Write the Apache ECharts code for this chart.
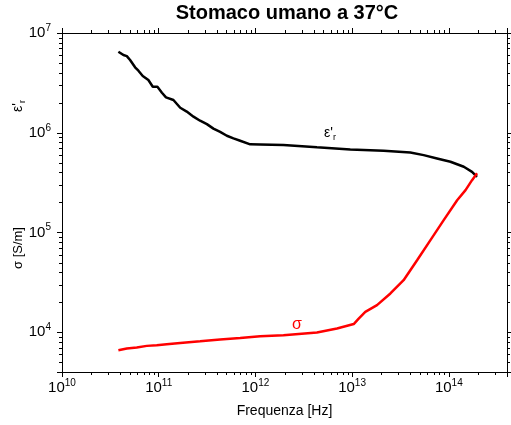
<!DOCTYPE html>
<html><head><meta charset="utf-8">
<script src="https://cdn.jsdelivr.net/npm/echarts@6/dist/echarts.min.js"></script>
<style>html,body{margin:0;padding:0;background:#fff}#c{width:511px;height:425px}</style>
</head><body><div id="c"></div>
<script>
// ---- data ----
const epsFreq = [3.83e10,4.32e10,4.68e10,5.06e10,5.70e10,6.17e10,6.84e10,7.82e10,8.69e10,9.70e10,
  1.08e11,1.19e11,1.42e11,1.67e11,1.95e11,2.29e11,2.68e11,3.15e11,3.68e11,4.32e11,5.07e11,5.93e11,6.96e11,8.84e11,
  1.12e12,1.95e12,4.33e12,9.58e12,2.12e13,4.00e13,5.50e13,7.56e13,1.04e14,1.43e14,1.74e14,1.96e14];
const epsValues = [6.49e6,6.01e6,5.87e6,5.36e6,4.53e6,4.19e6,3.71e6,3.38e6,2.89e6,2.89e6,
  2.52e6,2.26e6,2.13e6,1.78e6,1.63e6,1.45e6,1.32e6,1.22e6,1.10e6,1.02e6,9.33e5,8.79e5,8.32e5,7.66e5,
  7.62e5,7.53e5,7.14e5,6.81e5,6.59e5,6.35e5,5.97e5,5.53e5,5.12e5,4.56e5,4.06e5,3.62e5];
const sigmaFreq = [3.83e10,4.68e10,5.93e10,7.53e10,9.55e10,1.21e11,1.67e11,2.68e11,4.32e11,6.96e11,
  1.12e12,1.95e12,4.33e12,6.98e12,1.04e13,1.17e13,1.37e13,1.81e13,2.49e13,3.41e13,4.70e13,6.46e13,8.86e13,
  1.22e14,1.49e14,1.74e14,1.96e14];
const sigmaValues = [6.61e3,6.88e3,7.04e3,7.31e3,7.43e3,7.60e3,7.83e3,8.14e3,8.47e3,8.79e3,
  9.14e3,9.35e3,9.95e3,1.09e4,1.21e4,1.37e4,1.60e4,1.87e4,2.45e4,3.33e4,5.28e4,8.39e4,1.33e5,
  2.11e5,2.66e5,3.35e5,3.92e5];
const xTickExponents = [10, 11, 12, 13, 14];
const yTickExponents = [4, 5, 6, 7];
const X_MIN = 1e10, X_MAX = 4e14, Y_MIN = 4e3, Y_MAX = 1e7;

// minor tick values (2..9 per decade) inside the axis ranges
const xMinorTicks = [];
for (let d = 10; d <= 14; d++) for (let m = 2; m <= 9; m++) { const v = m * Math.pow(10, d); if (v < X_MAX) xMinorTicks.push(v); }
const yMinorTicks = [];
for (let d = 3; d <= 6; d++) for (let m = 2; m <= 9; m++) { const v = m * Math.pow(10, d); if (v > Y_MIN && v < Y_MAX) yMinorTicks.push(v); }

const FONT = '"Liberation Sans", Arial, sans-serif';
function powLabel(exps) {
  return function (value) {
    const e = Math.round(Math.log10(value));
    if (exps.indexOf(e) < 0) return '';
    if (Math.abs(value - Math.pow(10, e)) / Math.pow(10, e) > 1e-6) return '';
    return '{b|10}{s|' + e + '}';
  };
}
const labelRich = {
  b: { fontSize: 15, fontFamily: FONT, color: '#000', lineHeight: 20, verticalAlign: 'middle' },
  s: { fontSize: 10, fontFamily: FONT, color: '#000', lineHeight: 12, verticalAlign: 'top' }
};
const axisLine = { show: true, lineStyle: { color: '#000', width: 1 } };
const majorTick = { show: true, inside: false, length: 5, lineStyle: { color: '#000', width: 1 } };

function crisp(v) { return Math.round(v) + 0.5; }
function xMinorRender(params, api) {
  const v = api.value(0);
  const pb = api.coord([v, Y_MIN]);
  const pt = api.coord([v, Y_MAX]);
  const x = crisp(pb[0]);
  return { type: 'group', children: [
    { type: 'line', shape: { x1: x, y1: pb[1], x2: x, y2: pb[1] + 3 }, style: { stroke: '#000', lineWidth: 1 } },
    { type: 'line', shape: { x1: x, y1: pt[1], x2: x, y2: pt[1] - 3 }, style: { stroke: '#000', lineWidth: 1 } }
  ]};
}
function yMinorRender(params, api) {
  const v = api.value(1);
  const pl = api.coord([X_MIN, v]);
  const pr = api.coord([X_MAX, v]);
  const y = crisp(pl[1]);
  return { type: 'group', children: [
    { type: 'line', shape: { x1: pl[0], y1: y, x2: pl[0] - 3, y2: y }, style: { stroke: '#000', lineWidth: 1 } },
    { type: 'line', shape: { x1: pr[0], y1: y, x2: pr[0] + 3, y2: y }, style: { stroke: '#000', lineWidth: 1 } }
  ]};
}

const chart = echarts.init(document.getElementById('c'), null, { renderer: 'canvas' });
chart.setOption({
  animation: false,
  backgroundColor: '#fff',
  title: {
    text: 'Stomaco umano a 37°C', left: 287, top: 3, textAlign: 'center', padding: 0,
    textStyle: { fontFamily: FONT, fontWeight: 'bold', fontSize: 20, color: '#000' }
  },
  grid: { left: 62, right: 4, top: 33, bottom: 53, containLabel: false, outerBoundsMode: 'none' },
  xAxis: [
    { type: 'log', logBase: 10, min: X_MIN, max: X_MAX, position: 'bottom',
      axisLine: axisLine, axisTick: majorTick, splitLine: { show: false }, minorTick: { show: false },
      axisLabel: { show: true, margin: 6, formatter: powLabel(xTickExponents), rich: labelRich, hideOverlap: false, showMinLabel: true, showMaxLabel: true },
      name: 'Frequenza [Hz]', nameLocation: 'middle', nameGap: 32,
      nameTextStyle: { fontFamily: FONT, fontSize: 14, color: '#000' } },
    { type: 'log', logBase: 10, min: X_MIN, max: X_MAX, position: 'top',
      axisLine: axisLine, axisTick: majorTick, splitLine: { show: false }, axisLabel: { show: false } }
  ],
  yAxis: [
    { type: 'log', logBase: 10, min: Y_MIN, max: Y_MAX, position: 'left',
      axisLine: axisLine, axisTick: majorTick, splitLine: { show: false }, minorTick: { show: false },
      axisLabel: { show: true, margin: 11, formatter: powLabel(yTickExponents), rich: labelRich, hideOverlap: false, showMinLabel: true, showMaxLabel: true } },
    { type: 'log', logBase: 10, min: Y_MIN, max: Y_MAX, position: 'right',
      axisLine: axisLine, axisTick: majorTick, splitLine: { show: false }, axisLabel: { show: false } }
  ],
  series: [
    { name: 'eps', type: 'line', xAxisIndex: 0, yAxisIndex: 0, showSymbol: false, symbol: 'none',
      lineStyle: { color: '#000', width: 2.5 }, data: epsFreq.map((f, i) => [f, epsValues[i]]), z: 3 },
    { name: 'sigma', type: 'line', xAxisIndex: 0, yAxisIndex: 0, showSymbol: false, symbol: 'none',
      lineStyle: { color: '#ff0000', width: 2.5 }, data: sigmaFreq.map((f, i) => [f, sigmaValues[i]]), z: 4 },
    { type: 'custom', xAxisIndex: 0, yAxisIndex: 0, clip: false, silent: true,
      data: xMinorTicks.map(v => [v, Y_MIN]), renderItem: xMinorRender },
    { type: 'custom', xAxisIndex: 0, yAxisIndex: 0, clip: false, silent: true,
      data: yMinorTicks.map(v => [X_MIN, v]), renderItem: yMinorRender }
  ],
  graphic: [
    { type: 'text', x: 18, y: 106, rotation: Math.PI / 2,
      style: { text: "{a|ε'}{s|r}", align: 'center', verticalAlign: 'middle',
        rich: { a: { fontFamily: FONT, fontSize: 14, fill: '#000', lineHeight: 18, verticalAlign: 'middle' },
                s: { fontFamily: FONT, fontSize: 9, fill: '#000', lineHeight: 10, verticalAlign: 'bottom' } } } },
    { type: 'text', x: 18, y: 248, rotation: Math.PI / 2,
      style: { text: 'σ [S/m]', align: 'center', verticalAlign: 'middle', font: '13px ' + FONT, fill: '#000' } },
    { type: 'text', x: 330, y: 133,
      style: { text: "{a|ε'}{s|r}", align: 'center', verticalAlign: 'middle',
        rich: { a: { fontFamily: FONT, fontSize: 14, fill: '#000', lineHeight: 18, verticalAlign: 'middle' },
                s: { fontFamily: FONT, fontSize: 9, fill: '#000', lineHeight: 10, verticalAlign: 'bottom' } } } },
    { type: 'text', x: 297, y: 325,
      style: { text: 'σ', align: 'center', verticalAlign: 'middle', font: '16px ' + FONT, fill: '#ff0000' } }
  ]
});
</script></body></html>
